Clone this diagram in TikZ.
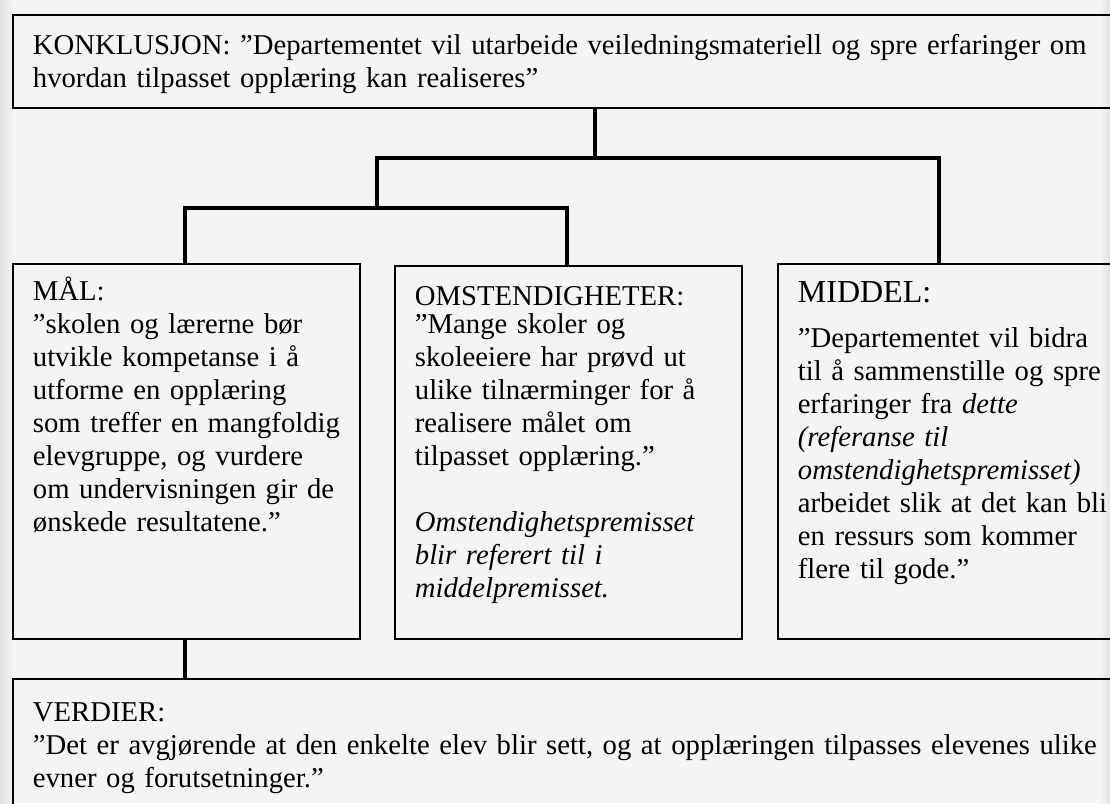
\documentclass[tikz,border=0pt]{standalone}
\usepackage{fontspec}
\setmainfont{Liberation Serif}
\usepackage{tikz}
\usetikzlibrary{calc}
\definecolor{ColPage}{RGB}{244,244,244}
\definecolor{ColEdge}{RGB}{226,226,226}

\begin{document}
\begin{tikzpicture}[
  x=1pt, y=-1pt,
  line join=miter,
  every node/.style={font=\fontsize{28.7}{33}\selectfont},
  box/.style={draw, line width=1.8pt, anchor=north west, align=left,
    inner xsep=20pt, inner ysep=0pt},
  link/.style={line width=4pt}
]
  \useasboundingbox (0,0) rectangle (1110,803);
  \clip (0,0) rectangle (1110,803);
  % page, with a faint shadow on both sides
  \fill[ColPage] (0,0) rectangle (1110,803);
  \shade[left color=ColEdge, right color=ColPage] (0,0) rectangle (14,803);
  \shade[left color=ColPage, right color=ColEdge] (1100,0) rectangle (1110,803);

  % conclusion on top, premises in the middle, values at the bottom
  \node[box, text width=1080pt, text height=40pt, text depth=53pt] (konk) at (12,14)
    {KONKLUSJON: ”Departementet vil utarbeide veiledningsmateriell og spre erfaringer om\\
     hvordan tilpasset opplæring kan realiseres”};
  \node[box, text width=307pt, text height=37pt, text depth=338pt] (mal) at (12,263)
    {MÅL:\\
     ”skolen og lærerne bør\\
     utvikle kompetanse i å\\
     utforme en opplæring\\
     \mbox{som treffer en mangfoldig}\\
     elevgruppe, og vurdere\\
     \mbox{om undervisningen gir de}\\
     ønskede resultatene.”};
  \node[box, text width=307pt, text height=40pt, text depth=333pt] (omst) at (394,265)
    {OMSTENDIGHETER:\\[-5pt]
     ”Mange skoler og\\
     skoleeiere har prøvd ut\\
     ulike tilnærminger for å\\
     realisere målet om\\
     tilpasset opplæring.”\\[33pt]
     \textit{Omstendighetspremisset}\\
     \textit{blir referert til i}\\
     \textit{middelpremisset.}};
  \node[box, text width=330pt, text height=39pt, text depth=336pt] (middel) at (777,263)
    {{\fontsize{32}{33}\selectfont MIDDEL:}\\[12pt]
     ”Departementet vil bidra\\
     til å sammenstille og spre\\
     erfaringer fra \textit{dette}\\
     \textit{(referanse til}\\
     \textit{omstendighetspremisset)}\\
     arbeidet slik at det kan bli\\
     en ressurs som kommer\\
     flere til gode.”};
  \node[box, text width=1080pt, text height=43pt, text depth=114pt] (verdier) at (12,678)
    {VERDIER:\\
     ”Det er avgjørende at den enkelte elev blir sett, og at opplæringen tilpasses elevenes ulike\\
     evner og forutsetninger.”};

  % tree of connectors
  \coordinate (split) at (595,158);
  \coordinate (fork) at (377,208);
  \coordinate (dropMal) at (185,208);
  \coordinate (dropOmst) at (567,208);
  \coordinate (dropMid) at (939,158);
  \draw[link] (konk.south -| split) -- (split);
  \draw[link] (fork) -- (fork |- split) -- (dropMid) -- (dropMid |- middel.north);
  \draw[link] (mal.north -| dropMal) -- (dropMal) -- (dropOmst) -- (omst.north -| dropOmst);
  \draw[link] (mal.south -| dropMal) -- (verdier.north -| dropMal);
\end{tikzpicture}
\end{document}
